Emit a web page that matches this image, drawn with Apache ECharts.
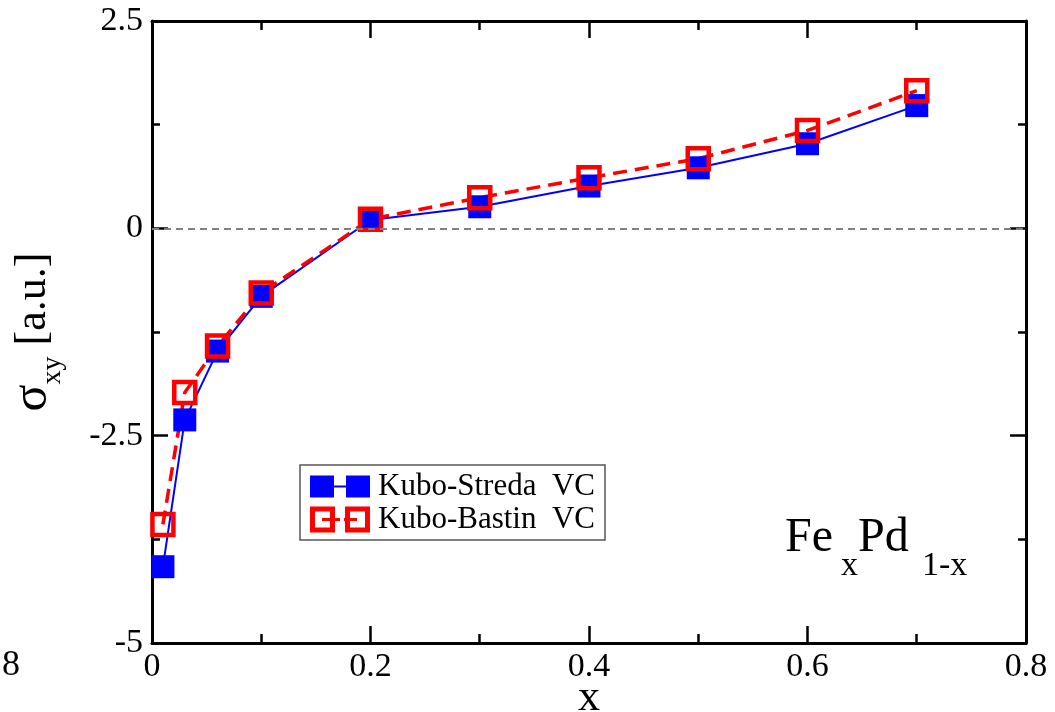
<!DOCTYPE html>
<html>
<head>
<meta charset="utf-8">
<script src="https://cdn.jsdelivr.net/npm/echarts@6/dist/echarts.min.js"></script>
<style>
html, body { margin: 0; padding: 0; background: #fff; }
#chart { width: 1055px; height: 712px; }
</style>
</head>
<body>
<div id="chart"></div>
<script>
// concentration x and sigma_xy values
var xValues = [0.01, 0.03, 0.06, 0.1, 0.2, 0.3, 0.4, 0.5, 0.6, 0.7];
var stredaVC = [-4.08, -2.31, -1.48, -0.82, 0.10, 0.26, 0.51, 0.73, 1.02, 1.48];
var bastinVC = [-3.57, -1.98, -1.42, -0.78, 0.11, 0.37, 0.61, 0.84, 1.18, 1.66];
var seriesNames = ['Kubo-Streda  VC', 'Kubo-Bastin  VC'];

var serif = 'Liberation Serif';

function pairs(ys) {
    return xValues.map(function (x, i) { return [x, ys[i]]; });
}

var chart = echarts.init(document.getElementById('chart'));

// legend icons: two squares joined by a line (xmgrace style)
var iconFilled = 'path://M0,0H24V22H0Z M36,0H60V22H36Z M24,10H36V12H24Z';
var iconHollow = 'path://M0,0H25V26H0Z M5,5V21H20V5Z M35,0H60V26H35Z M40,5V21H55V5Z M12,11.5H30V14.5H12Z M34,11.5H47V14.5H34Z';

var tickStyle = { color: '#000', width: 2.5 };

function frameX(pos, showLabel) {
    return {
        type: 'value',
        position: pos,
        min: 0,
        max: 0.8,
        interval: 0.2,
        axisLine: { show: true, onZero: false, lineStyle: { color: '#000', width: 3 } },
        axisTick: { inside: true, length: 17, lineStyle: tickStyle },
        minorTick: { show: true, splitNumber: 2, length: 9, lineStyle: tickStyle },
        axisLabel: { show: showLabel, fontFamily: serif, fontSize: 34, color: '#000', margin: 7 },
        splitLine: { show: false }
    };
}

function frameY(pos, showLabel) {
    return {
        type: 'value',
        position: pos,
        min: -5,
        max: 2.5,
        interval: 2.5,
        axisLine: { show: true, onZero: false, lineStyle: { color: '#000', width: 3 } },
        axisTick: { inside: true, length: 16, lineStyle: tickStyle },
        minorTick: { show: true, splitNumber: 2, length: 8, lineStyle: tickStyle },
        axisLabel: { show: showLabel, fontFamily: serif, fontSize: 34, color: '#000', margin: 9 },
        splitLine: { show: false }
    };
}

var xBottom = frameX('bottom', true);
xBottom.name = 'x';
xBottom.nameLocation = 'middle';
xBottom.nameGap = 33;
xBottom.nameMoveOverlap = false;
xBottom.nameTextStyle = { fontFamily: serif, fontSize: 44, color: '#000' };

var yLeft = frameY('left', true);
yLeft.name = '{s|σ}{b|xy}{n| [a.u.]}';
yLeft.nameLocation = 'middle';
yLeft.nameRotate = 90;
yLeft.nameGap = 85;
yLeft.nameTextStyle = {
    fontFamily: serif,
    color: '#000',
    rich: {
        s: { fontFamily: serif, fontSize: 50, color: '#000' },
        b: { fontFamily: serif, fontSize: 28, color: '#000', padding: [40, 0, 0, 0] },
        n: { fontFamily: serif, fontSize: 44, color: '#000' }
    }
};

var option = {
    animation: false,
    backgroundColor: '#fff',
    grid: { left: 152, right: 29, top: 21, bottom: 69, containLabel: false, outerBoundsMode: 'none' },
    xAxis: [xBottom, frameX('top', false)],
    yAxis: [yLeft, frameY('right', false)],
    legend: {
        orient: 'vertical',
        left: 300,
        top: 465,
        padding: [6, 10, 5, 10],
        itemGap: 2,
        itemWidth: 60,
        itemHeight: 26,
        borderColor: '#555',
        borderWidth: 1.5,
        textStyle: { fontFamily: serif, fontSize: 31, color: '#000', padding: [0, 0, 0, 3] },
        data: [
            { name: seriesNames[0], icon: iconFilled, itemStyle: { color: '#0000ff', borderWidth: 0 } },
            { name: seriesNames[1], icon: iconHollow, itemStyle: { color: '#ff0000', borderWidth: 0 } }
        ]
    },
    graphic: [
        { type: 'text', left: 2, top: 648, style: { text: '8', font: '36px "Liberation Serif"', fill: '#000' } },
        { type: 'text', x: 785, y: 538, style: { text: 'Fe', font: '48px "Liberation Serif"', fill: '#000', verticalAlign: 'middle' } },
        { type: 'text', x: 841, y: 566, style: { text: 'x', font: '34px "Liberation Serif"', fill: '#000', verticalAlign: 'middle' } },
        { type: 'text', x: 858, y: 538, style: { text: 'Pd', font: '48px "Liberation Serif"', fill: '#000', verticalAlign: 'middle' } },
        { type: 'text', x: 922, y: 566, style: { text: '1-x', font: '34px "Liberation Serif"', fill: '#000', verticalAlign: 'middle' } }
    ],
    series: [
        {
            name: seriesNames[0],
            type: 'line',
            data: pairs(stredaVC),
            symbol: 'rect',
            symbolSize: 23,
            itemStyle: { color: '#0000ff' },
            lineStyle: { color: '#0000ff', width: 2 },
            markLine: {
                silent: true,
                symbol: ['none', 'none'],
                label: { show: false },
                lineStyle: { color: '#808080', type: [7, 5], width: 2 },
                data: [{ yAxis: 0 }]
            }
        },
        {
            name: seriesNames[1],
            type: 'line',
            data: pairs(bastinVC),
            symbol: 'rect',
            symbolSize: 21,
            itemStyle: { color: 'rgba(0,0,0,0)', borderColor: '#ff0000', borderWidth: 4.5 },
            lineStyle: { color: '#ff0000', width: 3.5, type: [14, 8] }
        }
    ]
};

chart.setOption(option);
window.addEventListener('resize', function () {
    chart.resize();
});
</script>
</body>
</html>
